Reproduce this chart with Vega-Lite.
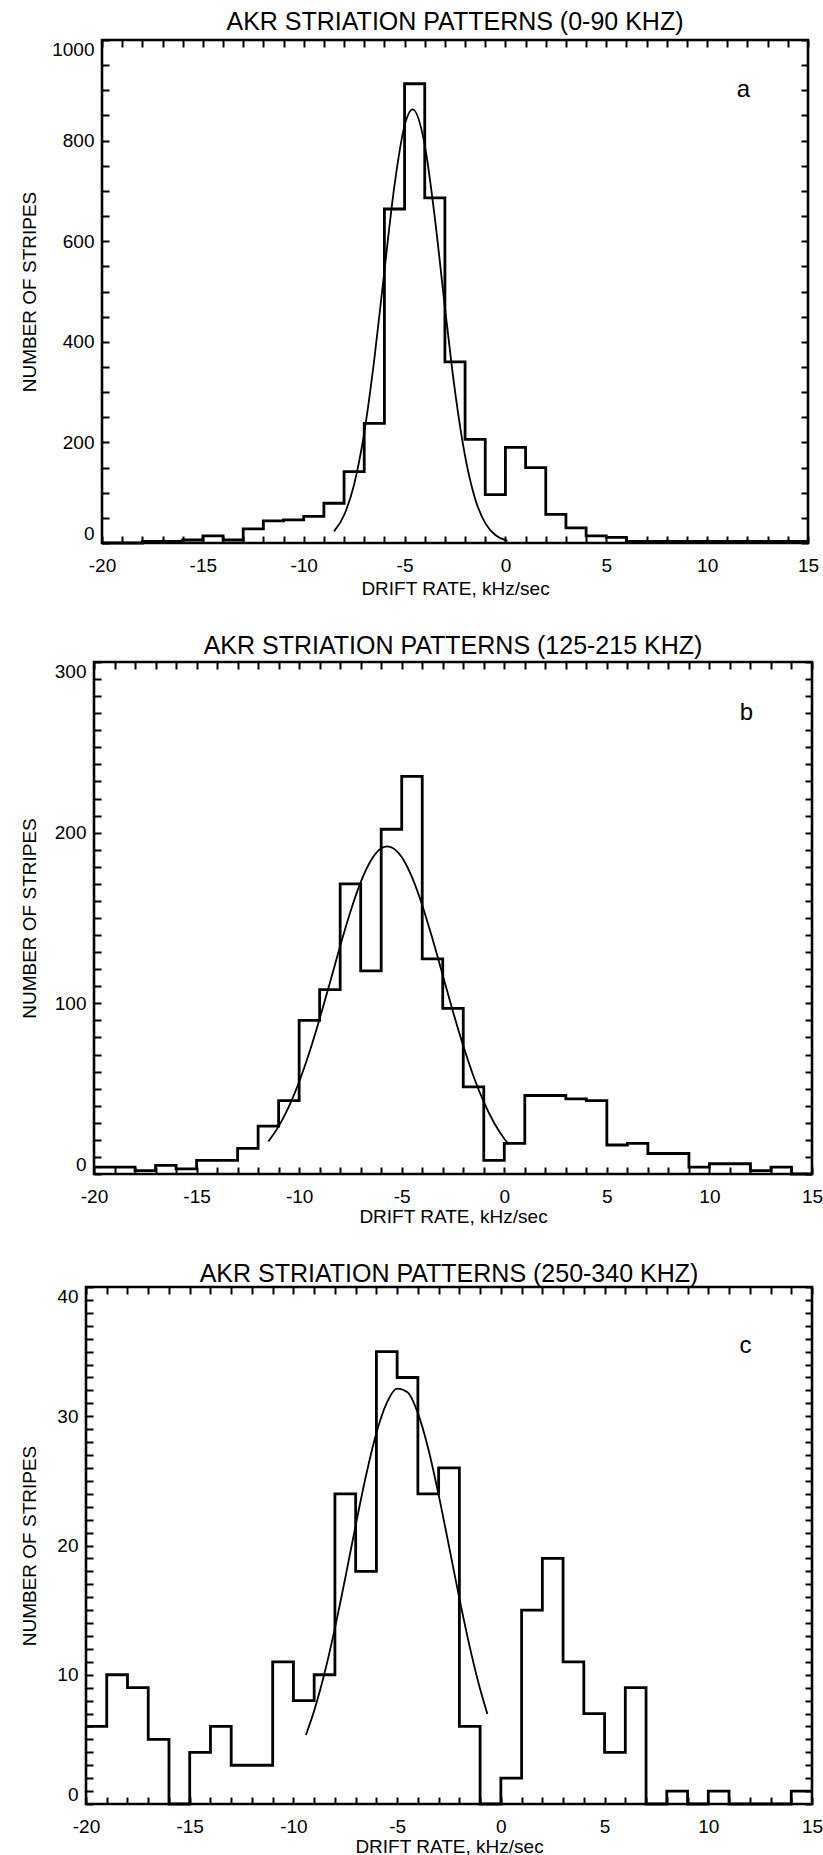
{
  "$schema": "https://vega.github.io/schema/vega-lite/v6.json",
  "padding": {"left": 11, "top": 8, "right": 5, "bottom": 2},
  "background": "white",
  "config": {
    "view": {"stroke": "black", "strokeWidth": 2.6},
    "font": "Liberation Sans",
    "axis": {"labelFont": "Liberation Sans", "labelFontSize": 19, "labelColor": "black", "titleFont": "Liberation Sans", "titleFontSize": 19, "titleFontWeight": "normal", "titleColor": "black", "tickColor": "black", "tickWidth": 2, "domain": false, "grid": false},
    "axisX": {"labelFlush": false},
    "axisY": {"labelFlush": true},
    "title": {"font": "Liberation Sans", "fontSize": 25, "fontWeight": "normal", "color": "black", "anchor": "middle"}
  },
  "datasets": {
    "a_hist": [
      {"start": -20, "count": 0}, {"start": -19, "count": 0}, {"start": -18, "count": 3}, {"start": -17, "count": 3},
      {"start": -16, "count": 6}, {"start": -15, "count": 14}, {"start": -14, "count": 6}, {"start": -13, "count": 28},
      {"start": -12, "count": 44}, {"start": -11, "count": 46}, {"start": -10, "count": 53}, {"start": -9, "count": 79},
      {"start": -8, "count": 142}, {"start": -7, "count": 238}, {"start": -6, "count": 664}, {"start": -5, "count": 913},
      {"start": -4, "count": 686}, {"start": -3, "count": 360}, {"start": -2, "count": 206}, {"start": -1, "count": 96},
      {"start": 0, "count": 190}, {"start": 1, "count": 150}, {"start": 2, "count": 57}, {"start": 3, "count": 30},
      {"start": 4, "count": 14}, {"start": 5, "count": 11}, {"start": 6, "count": 3}, {"start": 7, "count": 3},
      {"start": 8, "count": 3}, {"start": 9, "count": 3}, {"start": 10, "count": 3}, {"start": 11, "count": 3},
      {"start": 12, "count": 3}, {"start": 13, "count": 3}, {"start": 14, "count": 3}, {"start": 15, "count": 3}
    ],
    "a_fit": [
      {"drift": -8.5, "fit": 23.2}, {"drift": -8.0, "fit": 55.2}, {"drift": -7.5, "fit": 116.6}, {"drift": -7.0, "fit": 219.0},
      {"drift": -6.5, "fit": 365.3}, {"drift": -6.0, "fit": 540.9}, {"drift": -5.5, "fit": 711.0}, {"drift": -5.0, "fit": 829.8},
      {"drift": -4.6, "fit": 862}, {"drift": -4.0, "fit": 791.3}, {"drift": -3.5, "fit": 646.5}, {"drift": -3.0, "fit": 468.9},
      {"drift": -2.5, "fit": 302.0}, {"drift": -2.0, "fit": 172.8}, {"drift": -1.5, "fit": 87.7}, {"drift": -1.0, "fit": 39.5},
      {"drift": -0.5, "fit": 15.8}, {"drift": 0.0, "fit": 5.6}, {"drift": 0.1, "fit": 4.5}
    ],
    "a_label": [{"drift": 11.8, "count": 900, "label": "a"}],
    "b_hist": [
      {"start": -20, "count": 4}, {"start": -19, "count": 4}, {"start": -18, "count": 2}, {"start": -17, "count": 5},
      {"start": -16, "count": 3}, {"start": -15, "count": 8}, {"start": -14, "count": 8}, {"start": -13, "count": 15},
      {"start": -12, "count": 28}, {"start": -11, "count": 43}, {"start": -10, "count": 90}, {"start": -9, "count": 108},
      {"start": -8, "count": 170}, {"start": -7, "count": 119}, {"start": -6, "count": 202}, {"start": -5, "count": 233},
      {"start": -4, "count": 126}, {"start": -3, "count": 97}, {"start": -2, "count": 51}, {"start": -1, "count": 8},
      {"start": 0, "count": 18}, {"start": 1, "count": 46}, {"start": 2, "count": 46}, {"start": 3, "count": 44},
      {"start": 4, "count": 43}, {"start": 5, "count": 17}, {"start": 6, "count": 18}, {"start": 7, "count": 12},
      {"start": 8, "count": 12}, {"start": 9, "count": 4}, {"start": 10, "count": 6}, {"start": 11, "count": 6},
      {"start": 12, "count": 2}, {"start": 13, "count": 4}, {"start": 14, "count": 0}, {"start": 15, "count": 0}
    ],
    "b_fit": [
      {"drift": -11.5, "fit": 19.1}, {"drift": -11.0, "fit": 27.9}, {"drift": -10.5, "fit": 39.5}, {"drift": -10.0, "fit": 54.0},
      {"drift": -9.5, "fit": 71.3}, {"drift": -9.0, "fit": 91.0}, {"drift": -8.5, "fit": 112.1}, {"drift": -8.0, "fit": 133.6},
      {"drift": -7.5, "fit": 153.7}, {"drift": -7.0, "fit": 171.0}, {"drift": -6.5, "fit": 183.7}, {"drift": -6.0, "fit": 190.8},
      {"drift": -5.7, "fit": 192}, {"drift": -5.0, "fit": 185.7}, {"drift": -4.5, "fit": 173.9}, {"drift": -4.0, "fit": 157.5},
      {"drift": -3.5, "fit": 137.8}, {"drift": -3.0, "fit": 116.5}, {"drift": -2.5, "fit": 95.1}, {"drift": -2.0, "fit": 75.1},
      {"drift": -1.5, "fit": 57.3}, {"drift": -1.0, "fit": 42.2}, {"drift": -0.5, "fit": 30.0}, {"drift": 0.0, "fit": 20.7},
      {"drift": 0.2, "fit": 17.6}
    ],
    "b_label": [{"drift": 11.8, "count": 270, "label": "b"}],
    "c_hist": [
      {"start": -20, "count": 6}, {"start": -19, "count": 10}, {"start": -18, "count": 9}, {"start": -17, "count": 5},
      {"start": -16, "count": 0}, {"start": -15, "count": 4}, {"start": -14, "count": 6}, {"start": -13, "count": 3},
      {"start": -12, "count": 3}, {"start": -11, "count": 11}, {"start": -10, "count": 8}, {"start": -9, "count": 10},
      {"start": -8, "count": 24}, {"start": -7, "count": 18}, {"start": -6, "count": 35}, {"start": -5, "count": 33},
      {"start": -4, "count": 24}, {"start": -3, "count": 26}, {"start": -2, "count": 6}, {"start": -1, "count": 0},
      {"start": 0, "count": 2}, {"start": 1, "count": 15}, {"start": 2, "count": 19}, {"start": 3, "count": 11},
      {"start": 4, "count": 7}, {"start": 5, "count": 4}, {"start": 6, "count": 9}, {"start": 7, "count": 0},
      {"start": 8, "count": 1}, {"start": 9, "count": 0}, {"start": 10, "count": 1}, {"start": 11, "count": 0},
      {"start": 12, "count": 0}, {"start": 13, "count": 0}, {"start": 14, "count": 1}, {"start": 15, "count": 1}
    ],
    "c_fit": [
      {"drift": -9.4, "fit": 5.34}, {"drift": -9.0, "fit": 7.22}, {"drift": -8.5, "fit": 10.13}, {"drift": -8.0, "fit": 13.61},
      {"drift": -7.5, "fit": 17.50}, {"drift": -7.0, "fit": 21.56}, {"drift": -6.5, "fit": 25.42}, {"drift": -6.0, "fit": 28.71},
      {"drift": -5.5, "fit": 31.04}, {"drift": -5.0, "fit": 32.14}, {"drift": -4.5, "fit": 31.86}, {"drift": -4.0, "fit": 30.24},
      {"drift": -3.5, "fit": 27.49}, {"drift": -3.0, "fit": 23.92}, {"drift": -2.5, "fit": 19.94}, {"drift": -2.0, "fit": 15.91},
      {"drift": -1.5, "fit": 12.16}, {"drift": -1.0, "fit": 8.89}, {"drift": -0.65, "fit": 6.97}
    ],
    "c_label": [{"drift": 11.8, "count": 35.4, "label": "c"}]
  },
  "spacing": 32,
  "vconcat": [
    {
      "spacing": 0,
      "hconcat": [
        {"width": 1, "height": 1, "data": {"values": [{}]}, "mark": {"type": "point", "opacity": 0}, "view": {"stroke": null}},
        {
          "width": 706, "height": 503,
          "title": {"text": "AKR STRIATION PATTERNS (0-90 KHZ)", "offset": 4},
          "resolve": {"axis": {"x": "independent", "y": "independent"}},
          "layer": [
            {
              "data": {"name": "a_hist"},
              "mark": {"type": "line", "interpolate": "step-after", "color": "black", "strokeWidth": 2.8},
              "encoding": {
                "x": {"field": "start", "type": "quantitative", "scale": {"domain": [-20, 15], "nice": false},
                  "axis": {"orient": "bottom", "values": [-20,-19,-18,-17,-16,-15,-14,-13,-12,-11,-10,-9,-8,-7,-6,-5,-4,-3,-2,-1,0,1,2,3,4,5,6,7,8,9,10,11,12,13,14,15], "labelExpr": "datum.value % 5 === 0 ? '' + datum.value : ''", "tickSize": -7, "labelPadding": 20, "labelFlush": false, "title": "DRIFT RATE, kHz/sec", "titlePadding": 4}},
                "y": {"field": "count", "type": "quantitative", "scale": {"domain": [0, 1000], "nice": false},
                  "axis": {"orient": "left", "values": [0,50,100,150,200,250,300,350,400,450,500,550,600,650,700,750,800,850,900,950,1000], "labelExpr": "datum.value % 200 === 0 ? '' + datum.value : ''", "tickSize": -7, "labelPadding": 15, "labelFlush": true, "title": "NUMBER OF STRIPES", "titlePadding": 8, "minExtent": 55, "maxExtent": 55}}
              }
            },
            {
              "data": {"name": "a_fit"},
              "mark": {"type": "line", "interpolate": "monotone", "color": "black", "strokeWidth": 1.8},
              "encoding": {
                "x": {"field": "drift", "type": "quantitative", "axis": {"orient": "top", "values": [-20,-19,-18,-17,-16,-15,-14,-13,-12,-11,-10,-9,-8,-7,-6,-5,-4,-3,-2,-1,0,1,2,3,4,5,6,7,8,9,10,11,12,13,14,15], "labels": false, "tickSize": -7, "title": null}},
                "y": {"field": "fit", "type": "quantitative", "axis": {"orient": "right", "values": [0,50,100,150,200,250,300,350,400,450,500,550,600,650,700,750,800,850,900,950,1000], "labels": false, "tickSize": -7, "title": null}}
              }
            },
            {
              "data": {"name": "a_label"},
              "mark": {"type": "text", "fontSize": 24, "color": "black", "font": "Liberation Sans"},
              "encoding": {
                "x": {"field": "drift", "type": "quantitative", "axis": null},
                "y": {"field": "count", "type": "quantitative", "axis": null},
                "text": {"field": "label"}
              }
            }
          ]
        }
      ]
    },
    {
      "spacing": 0,
      "hconcat": [
        {"width": 1, "height": 1, "data": {"values": [{}]}, "mark": {"type": "point", "opacity": 0}, "view": {"stroke": null}},
        {
          "width": 718, "height": 512,
          "title": {"text": "AKR STRIATION PATTERNS (125-215 KHZ)", "offset": 2.5},
          "resolve": {"axis": {"x": "independent", "y": "independent"}},
          "layer": [
            {
              "data": {"name": "b_hist"},
              "mark": {"type": "line", "interpolate": "step-after", "color": "black", "strokeWidth": 2.8},
              "encoding": {
                "x": {"field": "start", "type": "quantitative", "scale": {"domain": [-20, 15], "nice": false},
                  "axis": {"orient": "bottom", "values": [-20,-19,-18,-17,-16,-15,-14,-13,-12,-11,-10,-9,-8,-7,-6,-5,-4,-3,-2,-1,0,1,2,3,4,5,6,7,8,9,10,11,12,13,14,15], "labelExpr": "datum.value % 5 === 0 ? '' + datum.value : ''", "tickSize": -7, "labelPadding": 20, "labelFlush": false, "title": "DRIFT RATE, kHz/sec", "titlePadding": 1}},
                "y": {"field": "count", "type": "quantitative", "scale": {"domain": [0, 300], "nice": false},
                  "axis": {"orient": "left", "values": [0,10,20,30,40,50,60,70,80,90,100,110,120,130,140,150,160,170,180,190,200,210,220,230,240,250,260,270,280,290,300], "labelExpr": "datum.value % 100 === 0 ? '' + datum.value : ''", "tickSize": -7, "labelPadding": 15, "labelFlush": true, "title": "NUMBER OF STRIPES", "titlePadding": 8, "minExtent": 47, "maxExtent": 47}}
              }
            },
            {
              "data": {"name": "b_fit"},
              "mark": {"type": "line", "interpolate": "monotone", "color": "black", "strokeWidth": 1.8},
              "encoding": {
                "x": {"field": "drift", "type": "quantitative", "axis": {"orient": "top", "values": [-20,-19,-18,-17,-16,-15,-14,-13,-12,-11,-10,-9,-8,-7,-6,-5,-4,-3,-2,-1,0,1,2,3,4,5,6,7,8,9,10,11,12,13,14,15], "labels": false, "tickSize": -7, "title": null}},
                "y": {"field": "fit", "type": "quantitative", "axis": {"orient": "right", "values": [0,10,20,30,40,50,60,70,80,90,100,110,120,130,140,150,160,170,180,190,200,210,220,230,240,250,260,270,280,290,300], "labels": false, "tickSize": -7, "title": null}}
              }
            },
            {
              "data": {"name": "b_label"},
              "mark": {"type": "text", "fontSize": 24, "color": "black", "font": "Liberation Sans"},
              "encoding": {
                "x": {"field": "drift", "type": "quantitative", "axis": null},
                "y": {"field": "count", "type": "quantitative", "axis": null},
                "text": {"field": "label"}
              }
            }
          ]
        }
      ]
    },
    {
      "spacing": 0,
      "hconcat": [
        {"width": 1, "height": 1, "data": {"values": [{}]}, "mark": {"type": "point", "opacity": 0}, "view": {"stroke": null}},
        {
          "width": 726, "height": 517,
          "title": {"text": "AKR STRIATION PATTERNS (250-340 KHZ)", "offset": -1},
          "resolve": {"axis": {"x": "independent", "y": "independent"}},
          "layer": [
            {
              "data": {"name": "c_hist"},
              "mark": {"type": "line", "interpolate": "step-after", "color": "black", "strokeWidth": 2.8},
              "encoding": {
                "x": {"field": "start", "type": "quantitative", "scale": {"domain": [-20, 15], "nice": false},
                  "axis": {"orient": "bottom", "values": [-20,-19,-18,-17,-16,-15,-14,-13,-12,-11,-10,-9,-8,-7,-6,-5,-4,-3,-2,-1,0,1,2,3,4,5,6,7,8,9,10,11,12,13,14,15], "labelExpr": "datum.value % 5 === 0 ? '' + datum.value : ''", "tickSize": -7, "labelPadding": 20, "labelFlush": false, "title": "DRIFT RATE, kHz/sec", "titlePadding": 1}},
                "y": {"field": "count", "type": "quantitative", "scale": {"domain": [0, 40], "nice": false},
                  "axis": {"orient": "left", "values": [0,1,2,3,4,5,6,7,8,9,10,11,12,13,14,15,16,17,18,19,20,21,22,23,24,25,26,27,28,29,30,31,32,33,34,35,36,37,38,39,40], "labelExpr": "datum.value % 10 === 0 ? '' + datum.value : ''", "tickSize": -7, "labelPadding": 15, "labelFlush": true, "title": "NUMBER OF STRIPES", "titlePadding": 8, "minExtent": 39, "maxExtent": 39}}
              }
            },
            {
              "data": {"name": "c_fit"},
              "mark": {"type": "line", "interpolate": "monotone", "color": "black", "strokeWidth": 1.8},
              "encoding": {
                "x": {"field": "drift", "type": "quantitative", "axis": {"orient": "top", "values": [-20,-19,-18,-17,-16,-15,-14,-13,-12,-11,-10,-9,-8,-7,-6,-5,-4,-3,-2,-1,0,1,2,3,4,5,6,7,8,9,10,11,12,13,14,15], "labels": false, "tickSize": -7, "title": null}},
                "y": {"field": "fit", "type": "quantitative", "axis": {"orient": "right", "values": [0,1,2,3,4,5,6,7,8,9,10,11,12,13,14,15,16,17,18,19,20,21,22,23,24,25,26,27,28,29,30,31,32,33,34,35,36,37,38,39,40], "labels": false, "tickSize": -7, "title": null}}
              }
            },
            {
              "data": {"name": "c_label"},
              "mark": {"type": "text", "fontSize": 24, "color": "black", "font": "Liberation Sans"},
              "encoding": {
                "x": {"field": "drift", "type": "quantitative", "axis": null},
                "y": {"field": "count", "type": "quantitative", "axis": null},
                "text": {"field": "label"}
              }
            }
          ]
        }
      ]
    }
  ]
}
